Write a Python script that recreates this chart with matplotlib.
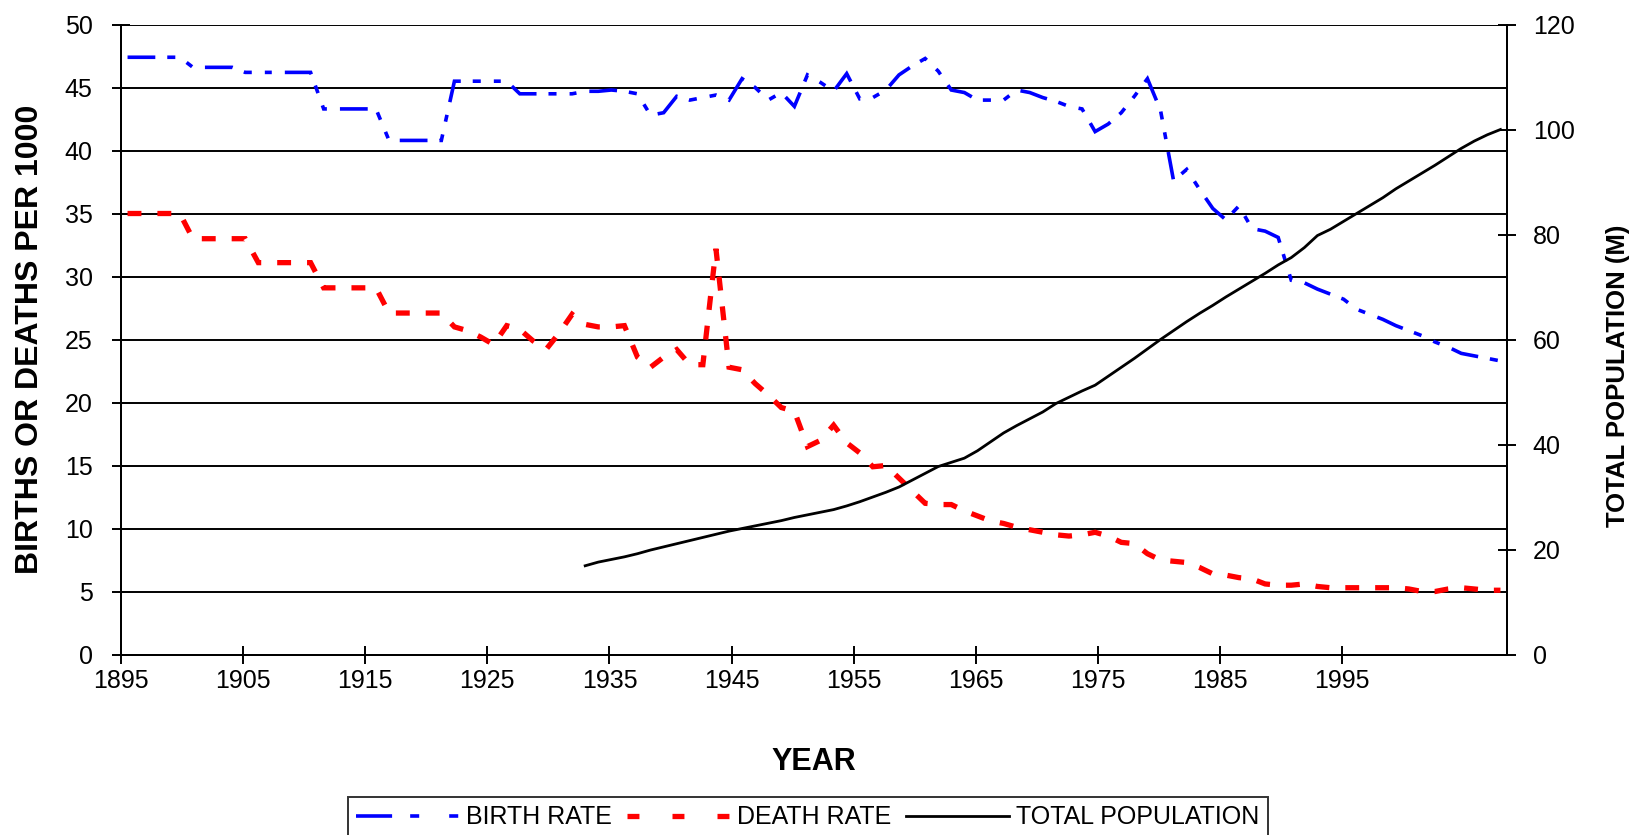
import matplotlib
matplotlib.use('Agg')
import matplotlib.pyplot as plt
from matplotlib.lines import Line2D

plt.rcParams['font.family'] = ['Liberation Sans', 'DejaVu Sans']
plt.rcParams['lines.scale_dashes'] = False

# one value per data row, 1895 to 2000
birth_rate = [
    47.4, 47.4, 47.4, 47.4, 47.4,
    46.6, 46.6, 46.6, 46.6, 46.2, 46.2, 46.2, 46.2, 46.2, 46.2,
    43.3, 43.3, 43.3, 43.3, 43.3, 40.8, 40.8, 40.8, 40.8, 40.8,
    45.5, 45.5, 45.5, 45.5, 45.5, 44.5, 44.5, 44.5, 44.5, 44.5,
    44.7, 44.7, 44.8, 44.7, 44.5, 42.8, 43.0, 44.3, 44.0, 44.2,
    44.4, 44.0, 45.7, 45.0, 44.0, 44.6, 43.5, 46.0, 45.4, 44.7,
    46.1, 44.1, 44.2, 44.8, 46.0, 46.7, 47.3, 46.3, 44.8, 44.6,
    44.0, 44.0, 44.0, 44.8, 44.6, 44.2, 43.9, 43.5, 43.3, 41.5,
    42.1, 43.0, 44.3, 45.7, 43.2, 37.6, 38.5, 36.9, 35.4, 34.5,
    35.6, 33.8, 33.6, 33.1, 29.7, 29.5, 29.0, 28.6, 28.2, 27.4,
    27.0, 26.6, 26.1, 25.7, 25.3, 24.8, 24.4, 23.9, 23.7, 23.5,
    23.3,
]
death_rate = [
    35.0, 35.0, 35.0, 35.0, 35.0,
    33.0, 33.0, 33.0, 33.0, 33.0, 31.1, 31.1, 31.1, 31.1, 31.1,
    29.1, 29.1, 29.1, 29.1, 29.1, 27.1, 27.1, 27.1, 27.1, 27.1,
    26.0, 25.7, 25.2, 24.6, 26.1, 25.8, 24.9, 24.2, 25.5, 27.0,
    26.2, 26.0, 26.0, 26.1, 23.6, 22.8, 23.6, 24.2, 23.0, 23.0,
    32.2, 22.8, 22.6, 21.5, 20.6, 19.6, 19.3, 16.5, 17.0, 18.2,
    16.8, 16.0, 14.9, 15.0, 14.0, 13.0, 12.0, 11.9, 11.9, 11.4,
    11.0, 10.6, 10.4, 10.1, 9.9, 9.7, 9.5, 9.4, 9.5, 9.7,
    9.4, 8.9, 8.8, 8.0, 7.5, 7.4, 7.3, 6.9, 6.4, 6.3,
    6.1, 6.0, 5.6, 5.5, 5.5, 5.6, 5.4, 5.3, 5.3, 5.3,
    5.3, 5.3, 5.3, 5.2, 5.0, 5.0, 5.2, 5.3, 5.2, 5.1,
    5.1,
]
# population only from row 35 (1930) on
pop_first_row = 35
population = [
    16.9, 17.6, 18.1, 18.6, 19.2, 19.9, 20.5, 21.1, 21.7, 22.3,
    22.9, 23.5, 24.0, 24.5, 25.0, 25.5, 26.1, 26.6, 27.1, 27.6,
    28.3, 29.1, 30.0, 30.9, 31.9, 33.2, 34.5, 35.8, 36.6, 37.4,
    38.8, 40.5, 42.2, 43.6, 44.9, 46.2, 47.8, 49.0, 50.2, 51.3,
    53.0, 54.7, 56.4, 58.2, 60.0, 61.7, 63.4, 65.0, 66.5, 68.1,
    69.6, 71.1, 72.6, 74.2, 75.6, 77.5, 79.8, 81.0, 82.5, 84.0,
    85.5, 87.0, 88.7, 90.2, 91.7, 93.2, 94.8, 96.4, 97.8, 99.0,
    100.0,
]
tick_years = list(range(1895, 2000, 10))

# the year labels of the original run a bit tighter than the data rows,
# so the axis ends at about "2008.5" on the label scale
x_start, x_end = 1895, 2008.5
n_rows = len(birth_rate)
slot = (x_end - x_start) / n_rows
bx = [x_start + (i + 0.5) * slot for i in range(n_rows)]
px = [x_start + (pop_first_row + i + 0.5) * slot for i in range(len(population))]

W, H = 1637, 835
fig = plt.figure(figsize=(W / 100, H / 100), dpi=100)
ax = fig.add_axes([121 / W, 1 - 654.5 / H, 1386 / W, 630 / H])
ax2 = ax.twinx()

blue_dash = (0, (20, 8.6, 5.8, 9.4, 5.0, 9.4))
red_dash = (0, (10, 11.5))

ax.plot(bx, birth_rate, color='#0000ff', lw=2.6, linestyle=blue_dash,
        dash_capstyle='butt', dash_joinstyle='miter', zorder=3)
ax.plot(bx, death_rate, color='#ff0000', lw=3.8, linestyle=red_dash,
        dash_capstyle='butt', dash_joinstyle='miter', zorder=3)
ax2.plot(px, population, color='black', lw=2.0, zorder=3)

ax.set_xlim(x_start, x_end)
ax.set_ylim(0, 50)
ax2.set_ylim(0, 120)
ax.set_yticks(range(0, 51, 5))
ax2.set_yticks(range(0, 121, 20))
ax.set_xticks(tick_years)
ax.set_xticklabels([str(y) for y in tick_years])

ax.grid(axis='y', color='black', lw=1.4)
ax.set_axisbelow(True)

for a in (ax, ax2):
    a.spines['top'].set_visible(False)
    for s in ('left', 'right', 'bottom'):
        a.spines[s].set_linewidth(1.4)
        a.spines[s].set_color('black')

ax.tick_params(axis='both', direction='inout', length=13, width=1.4,
               labelsize=18, colors='black')
ax.tick_params(axis='y', pad=14)
ax.tick_params(axis='x', pad=4)
ax2.tick_params(axis='y', direction='inout', length=13, width=1.4,
                labelsize=18, pad=12)

ax.set_ylabel('BIRTHS OR DEATHS PER 1000', fontsize=23, fontweight='bold', labelpad=14)
ax2.set_ylabel('TOTAL POPULATION (M)', fontsize=18.5, fontweight='bold')
ax2.yaxis.set_label_coords(1.0714, 0.442)
ax.set_xlabel('YEAR', fontsize=22, fontweight='bold', labelpad=39)

handles = [
    Line2D([], [], color='#0000ff', lw=2.6, linestyle=(0, (26, 13, 6.5, 21.6, 6.5, 10)),
           dash_capstyle='butt'),
    Line2D([], [], color='#ff0000', lw=3.8, linestyle=(0, (8.6, 23.8)), dash_capstyle='butt'),
    Line2D([], [], color='black', lw=2.0),
]
leg = fig.legend(handles, ['BIRTH RATE', 'DEATH RATE', 'TOTAL POPULATION'],
                 loc='upper center', bbox_to_anchor=(808 / W, 1 - 784 / H),
                 ncol=3, fontsize=18, frameon=True, fancybox=False,
                 handlelength=4.1, handletextpad=0.3, columnspacing=0.6,
                 borderpad=0.35)
leg.get_frame().set_edgecolor('black')
leg.get_frame().set_linewidth(1.4)

fig.savefig('out.png', dpi=100, facecolor='white')
